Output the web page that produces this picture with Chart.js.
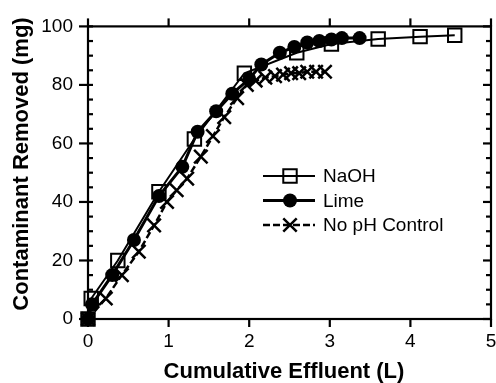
<!DOCTYPE html>
<html>
<head>
<meta charset="utf-8">
<script src="https://cdn.jsdelivr.net/npm/chart.js@4/dist/chart.umd.min.js"></script>
<style>
  html, body { margin: 0; padding: 0; background: #fff; }
  #wrap { width: 496px; height: 383px; }
</style>
</head>
<body>
<div id="wrap"><canvas id="chart" width="496" height="383"></canvas></div>
<script>
'use strict';
// data (x: L, y: mg)
const naohX = [0, 0.04, 0.37, 0.88, 1.32, 1.94, 2.59, 3.02, 3.6, 4.12, 4.55];
const naohY = [0, 7, 20, 43.5, 61.5, 84, 91, 94, 95.7, 96.5, 97];

const limeX = [0, 0.05, 0.3, 0.57, 0.88, 1.17, 1.36, 1.59, 1.79, 2.0, 2.15, 2.38, 2.56, 2.72, 2.87, 3.02, 3.15, 3.37];
const limeY = [0, 5, 15, 27, 42, 52, 64, 71, 77, 82, 87, 91, 93, 94.5, 95, 95.5, 96, 96];

const nophX = [0, 0.22, 0.42, 0.63, 0.82, 0.98, 1.1, 1.23, 1.4, 1.55, 1.69, 1.85, 1.97, 2.08, 2.2, 2.32, 2.42, 2.52, 2.62, 2.72, 2.83, 2.94];
const nophY = [0, 7, 15, 23, 32, 40, 44, 48, 55.5, 62.5, 69, 75.5, 80, 81.5, 82.5, 83, 83.5, 84, 84, 84.5, 84.5, 84.5];

const xTicks = [0, 1, 2, 3, 4, 5];
const yTicks = [0, 20, 40, 60, 80, 100];

const xTitle = 'Cumulative Effluent (L)';
const yTitle = 'Contaminant Removed (mg)';

const FONT = 'Liberation Sans, Arial, Helvetica, sans-serif';

function toPoints(xs, ys) {
  return xs.map((v, i) => ({ x: v, y: ys[i] }));
}

const datasets = [
  {
    label: 'NaOH',
    data: toPoints(naohX, naohY),
    borderColor: '#000',
    borderWidth: 2,
    pointStyle: 'rect',
    pointRadius: 9.5,
    pointBorderWidth: 2,
    pointBackgroundColor: 'rgba(0,0,0,0)',
    pointBorderColor: '#000',
    order: 1,
  },
  {
    label: 'Lime',
    data: toPoints(limeX, limeY),
    borderColor: '#000',
    borderWidth: 3,
    pointStyle: 'circle',
    pointRadius: 7,
    pointBorderWidth: 0,
    pointBackgroundColor: '#000',
    pointBorderColor: '#000',
    order: 0,
  },
  {
    label: 'No pH Control',
    data: toPoints(nophX, nophY),
    borderColor: '#000',
    borderWidth: 2.5,
    borderDash: [7, 3],
    pointStyle: 'crossRot',
    pointRadius: 9.5,
    pointBorderWidth: 2.5,
    pointBackgroundColor: '#000',
    pointBorderColor: '#000',
    order: 2,
  },
];

// 枠と目盛り線、軸タイトル
const frameTicks = {
  id: 'frameTicks',
  afterDraw(chart) {
    const { ctx, chartArea: { left, right, top, bottom }, scales: { x, y } } = chart;
    ctx.save();
    ctx.strokeStyle = '#000';
    ctx.lineWidth = 2.2;
    ctx.strokeRect(left, top, right - left, bottom - top);
    const line = (x1, y1, x2, y2) => {
      ctx.beginPath();
      ctx.moveTo(x1, y1);
      ctx.lineTo(x2, y2);
      ctx.stroke();
    };
    for (let v = 0; v <= 100; v += 5) {
      const py = y.getPixelForValue(v);
      const major = yTicks.includes(v);
      line(left - (major ? 9 : 0), py, left + 5, py);
      line(right - (major ? 8 : 5), py, right, py);
    }
    xTicks.forEach((v) => {
      const px = x.getPixelForValue(v);
      line(px, bottom, px, bottom + 8);
      line(px, top - 8, px, top);
    });

    ctx.fillStyle = '#000';
    ctx.font = 'bold 22px ' + FONT;
    ctx.textAlign = 'center';
    ctx.textBaseline = 'middle';
    ctx.fillText(xTitle, 284, 372);
    ctx.translate(21.5, 164);
    ctx.rotate(-Math.PI / 2);
    ctx.fillText(yTitle, 0, 0);
    ctx.restore();
  },
};

// 凡例 (グラフ内)
const innerLegend = {
  id: 'innerLegend',
  afterDraw(chart) {
    const { ctx } = chart;
    const rows = [datasets[0], datasets[1], datasets[2]];
    ctx.save();
    rows.forEach((ds, i) => {
      const cy = 176 + i * 24.5;
      ctx.strokeStyle = '#000';
      ctx.lineWidth = ds.borderWidth;
      ctx.setLineDash(ds.borderDash || []);
      ctx.beginPath();
      ctx.moveTo(263, cy);
      ctx.lineTo(315, cy);
      ctx.stroke();
      ctx.setLineDash([]);
      ctx.fillStyle = ds.pointBackgroundColor;
      ctx.lineWidth = ds.pointBorderWidth || 1;
      Chart.helpers.drawPoint(ctx, { pointStyle: ds.pointStyle, radius: ds.pointRadius, borderWidth: ds.pointBorderWidth }, 290, cy);
      ctx.fillStyle = '#000';
      ctx.font = '19px ' + FONT;
      ctx.textBaseline = 'middle';
      ctx.textAlign = 'left';
      ctx.fillText(ds.label, 323, cy + 1);
    });
    ctx.restore();
  },
};

new Chart(document.getElementById('chart'), {
  type: 'line',
  data: { datasets },
  plugins: [frameTicks, innerLegend],
  options: {
    responsive: false,
    animation: false,
    clip: false,
    layout: { autoPadding: false, padding: { top: 20, right: 5, left: 0, bottom: 0 } },
    plugins: { legend: { display: false }, tooltip: { enabled: false } },
    scales: {
      x: {
        type: 'linear',
        min: 0,
        max: 5,
        afterFit(scale) {
          scale.height = 64;
          scale.paddingRight = 0;
        },
        afterBuildTicks(scale) { scale.ticks = xTicks.map((v) => ({ value: v })); },
        grid: { display: false, drawTicks: false },
        border: { display: false },
        ticks: { color: '#000', padding: 11, font: { family: FONT, size: 19 } },
      },
      y: {
        type: 'linear',
        min: 0,
        max: 100,
        afterFit(scale) { scale.width = 88; },
        afterBuildTicks(scale) { scale.ticks = yTicks.map((v) => ({ value: v })); },
        grid: { display: false, drawTicks: false },
        border: { display: false },
        ticks: { color: '#000', padding: 15, font: { family: FONT, size: 19 } },
      },
    },
  },
});
</script>
</body>
</html>
